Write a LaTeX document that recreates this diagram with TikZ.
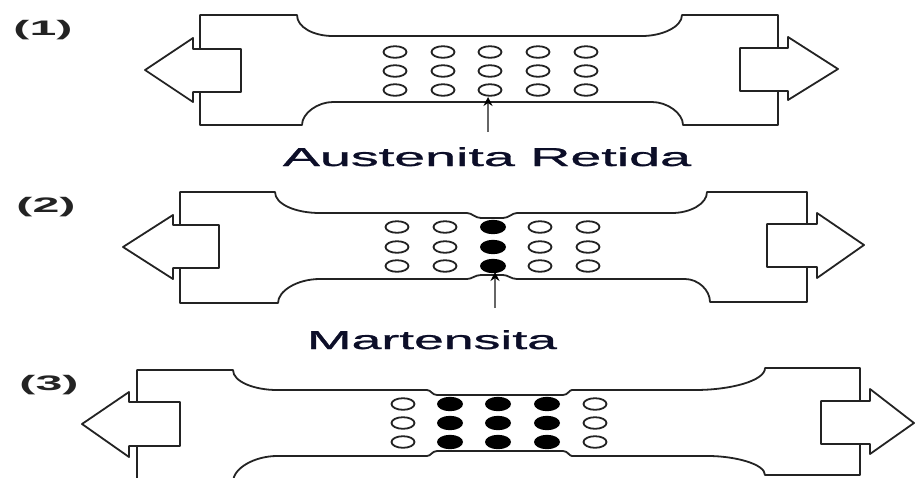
\documentclass[tikz,border=0pt]{standalone}
\usepackage{fontspec}
\setmainfont{Liberation Sans}
\newfontfamily\capfont[FakeBold=0.8]{Liberation Sans}
\usetikzlibrary{arrows.meta}
\definecolor{ink}{RGB}{35,35,35}
\definecolor{capink}{RGB}{12,14,40}
\tikzset{
  body/.style={draw=ink, line width=1.8pt, line join=round},
  pull/.style={body, fill=white},
  hole/.style={draw=ink, line width=1.8pt},
  grain/.style={fill=black},
  pointer/.style={draw=black!60, line width=2pt, -{Stealth[length=9pt,width=9pt,black]}},
  caption/.style={text=capink, inner sep=0pt, anchor=base},
  tag/.style={text=ink, inner sep=0pt}
}
\begin{document}
\begin{tikzpicture}[x=1pt,y=-1pt]
\useasboundingbox (0,0) rectangle (915,477);
\clip (0,0) rectangle (915,477);

% ---------------- specimen (1): all austenite ----------------
\draw[body] (200,15) -- (297,15) .. controls (297,27) and (313,36) .. (333,36)
  -- (642,36) .. controls (662,36) and (682,27) .. (682,15) -- (778,15)
  -- (778,125) -- (683,125) .. controls (683,113) and (667,102) .. (652,102)
  -- (333,102) .. controls (318,102) and (302,113) .. (302,125) -- (200,125) -- cycle;
\draw[pull] (145,70) -- (193,38) -- (193,49) -- (241,49) -- (241,92) -- (193,92) -- (193,102) -- cycle;
\draw[pull] (838,69) -- (788,37) -- (788,48) -- (740,48) -- (740,91) -- (788,91) -- (788,100) -- cycle;
\foreach \x in {395,443,490,538,586}
  \foreach \y in {52,71,90}
    \draw[hole] (\x,\y) ellipse [x radius=11.5, y radius=5.8];
\coordinate (p1s) at (488,132);
\coordinate (p1e) at (488,97);
\draw[pointer] (p1s) -- (p1e);
\node[tag] (n1) at (43,30) {\scalebox{2.3}[1]{\fontsize{21}{21}\selectfont\bfseries (1)}};
\node[caption] (aust) at (487,166) {\scalebox{2.14}[1]{\fontsize{26}{26}\capfont Austenita Retida}};

% ---------------- specimen (2): first column transformed ----------------
\draw[body] (180,192) -- (275,192) .. controls (275,204) and (295,213) .. (320,213)
  -- (467,213) .. controls (472,213) and (475,218) .. (481,218) -- (503,218)
  .. controls (509,218) and (512,213) .. (517,213)
  -- (672,213) .. controls (690,213) and (707,204) .. (707,192) -- (807,192)
  -- (807,302) -- (710,302) .. controls (710,290) and (698,279) .. (685,279)
  -- (517,279) .. controls (511,279) and (508,275) .. (503,275) -- (481,275)
  .. controls (475,275) and (472,279) .. (467,279)
  -- (320,279) .. controls (297,279) and (278,291) .. (278,303) -- (180,303) -- cycle;
\draw[pull] (123,247) -- (173,215) -- (173,225) -- (219,225) -- (219,268) -- (173,268) -- (173,279) -- cycle;
\draw[pull] (864,245) -- (817,213) -- (817,224) -- (767,224) -- (767,267) -- (817,267) -- (817,278) -- cycle;
\foreach \x in {397,445,540,588}
  \foreach \y in {227,247,266}
    \draw[hole] (\x,\y) ellipse [x radius=11.5, y radius=5.8];
\foreach \y in {227,247,266}
  \fill[grain] (493,\y) ellipse [x radius=13, y radius=7.2];
\coordinate (p2s) at (495,308);
\coordinate (p2e) at (495,272);
\draw[pointer] (p2s) -- (p2e);
\node[tag] (n2) at (46,207) {\scalebox{2.3}[1]{\fontsize{21}{21}\selectfont\bfseries (2)}};
\node[caption] (mart) at (432,349) {\scalebox{2.06}[1]{\fontsize{26}{26}\capfont Martensita}};

% ---------------- specimen (3): three columns transformed ----------------
\draw[body] (137,370) -- (233,370) .. controls (233,382) and (255,390) .. (277,390)
  -- (427,390) .. controls (431,390) and (432,395) .. (437,395) -- (563,395)
  .. controls (568,395) and (569,390) .. (572,390)
  -- (695,390) .. controls (730,390) and (765,381) .. (765,368) -- (860,368)
  -- (860,475) -- (765,475) .. controls (765,464) and (735,456) .. (708,456)
  -- (572,456) .. controls (569,456) and (568,451) .. (563,451) -- (437,451)
  .. controls (432,451) and (431,456) .. (427,456)
  -- (277,456) .. controls (255,456) and (233,468) .. (233,482) -- (137,482) -- cycle;
\draw[pull] (82,424) -- (129,392) -- (129,402) -- (180,402) -- (180,446) -- (129,446) -- (129,457) -- cycle;
\draw[pull] (914,423) -- (870,389) -- (870,401) -- (821,401) -- (821,444) -- (870,444) -- (870,454) -- cycle;
\foreach \x in {403,595}
  \foreach \y in {404,423,442}
    \draw[hole] (\x,\y) ellipse [x radius=11.5, y radius=5.8];
\foreach \x in {450,498,547}
  \foreach \y in {404,423,442}
    \fill[grain] (\x,\y) ellipse [x radius=13, y radius=7.2];
\node[tag] (n3) at (49,385) {\scalebox{2.3}[1]{\fontsize{21}{21}\selectfont\bfseries (3)}};
\end{tikzpicture}
\end{document}
